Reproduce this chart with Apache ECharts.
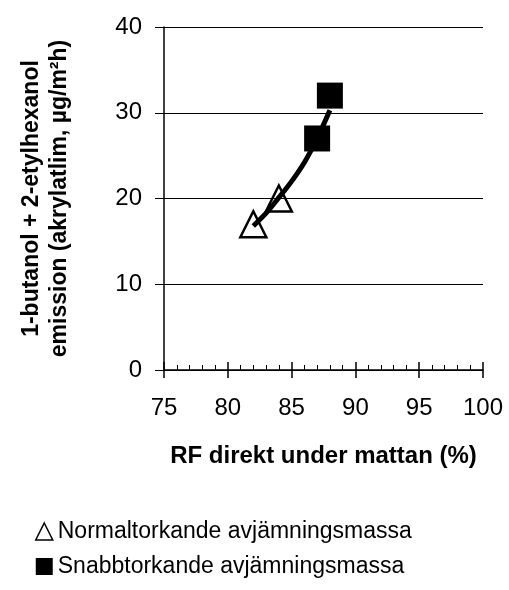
<!DOCTYPE html>
<html>
<head>
<meta charset="utf-8">
<script src="https://cdn.jsdelivr.net/npm/echarts@6/dist/echarts.min.js"></script>
<style>
  html, body { margin: 0; padding: 0; background: #fff; }
  #chart { width: 509px; height: 590px; }
</style>
</head>
<body>
<div id="chart"></div>
<script>
// RF (%) and emission values
const normalData = [[82, 17], [84, 20]]
const snabbData = [[87, 27], [88, 32]]
// fitted trend curve
const trendData = [[82, 16.8], [83, 18.3], [84, 20.1], [85, 22.0], [86, 24.2], [87, 27.0], [88, 30.3]]

const normalName = 'Normaltorkande avjämningsmassa'
const snabbName = 'Snabbtorkande avjämningsmassa'
const xName = 'RF direkt under mattan (%)'
const yName = '1-butanol + 2-etylhexanol\nemission (akrylatlim, µg/m²h)'

const font = '"Liberation Sans", Arial, sans-serif'

const chart = echarts.init(document.getElementById('chart'))

chart.setOption({
  backgroundColor: '#fff',
  animation: false,
  textStyle: { fontFamily: font, color: '#000' },
  grid: {
    left: 164,
    right: 26,
    top: 27,
    bottom: 220
  },
  legend: {
    orient: 'vertical',
    left: 30,
    top: 515,
    itemWidth: 17,
    itemHeight: 17,
    itemGap: 12,
    textStyle: { fontSize: 23, fontFamily: font, color: '#000' },
    data: [
      {
        name: normalName,
        icon: 'triangle',
        itemStyle: { color: 'rgba(0,0,0,0)', borderColor: '#000', borderWidth: 1.5, opacity: 1 }
      },
      {
        name: snabbName,
        icon: 'rect',
        itemStyle: { color: '#000', borderWidth: 0, opacity: 1 }
      }
    ]
  },
  xAxis: [{
    type: 'value',
    min: 75,
    max: 100,
    interval: 5,
    name: xName,
    nameLocation: 'middle',
    nameGap: 74,
    nameTextStyle: { fontSize: 24, fontWeight: 'bold', color: '#000', fontFamily: font },
    axisLine: { show: true, lineStyle: { color: '#000', width: 1.5 } },
    axisTick: { show: true, length: 8, lineStyle: { color: '#000', width: 1.5 } },
    axisLabel: { fontSize: 24, margin: 26, color: '#000', fontFamily: font },
    splitLine: { show: false }
  }, {
    type: 'value',
    min: 75,
    max: 100,
    interval: 5,
    position: 'bottom',
    axisLine: { show: false },
    axisTick: { show: true, inside: true, length: 8, lineStyle: { color: '#000', width: 1.5 } },
    minorTick: { show: true, splitNumber: 5, length: 5, lineStyle: { color: '#000', width: 1 } },
    axisLabel: { show: false },
    splitLine: { show: false }
  }],
  yAxis: {
    type: 'value',
    min: 0,
    max: 40,
    interval: 10,
    name: yName,
    nameLocation: 'middle',
    nameGap: 90,
    nameTextStyle: { fontSize: 23, fontWeight: 'bold', color: '#000', lineHeight: 28, fontFamily: font },
    axisLine: { show: true, lineStyle: { color: '#000', width: 1.5 } },
    axisTick: { show: true, length: 9, lineStyle: { color: '#000', width: 1 } },
    axisLabel: { fontSize: 24, margin: 22, color: '#000', fontFamily: font },
    splitLine: { show: true, lineStyle: { color: '#000', width: 1 } }
  },
  series: [
    {
      name: 'trend',
      type: 'line',
      data: trendData,
      smooth: 0.3,
      showSymbol: false,
      lineStyle: { color: '#000', width: 5 },
      z: 2
    },
    {
      name: normalName,
      type: 'scatter',
      data: normalData,
      symbol: 'triangle',
      symbolSize: 26,
      itemStyle: { color: 'rgba(0,0,0,0)', borderColor: '#000', borderWidth: 2.5, opacity: 1 },
      z: 3
    },
    {
      name: snabbName,
      type: 'scatter',
      data: snabbData,
      symbol: 'rect',
      symbolSize: 26,
      itemStyle: { color: '#000', opacity: 1 },
      z: 3
    }
  ]
})
</script>
</body>
</html>
